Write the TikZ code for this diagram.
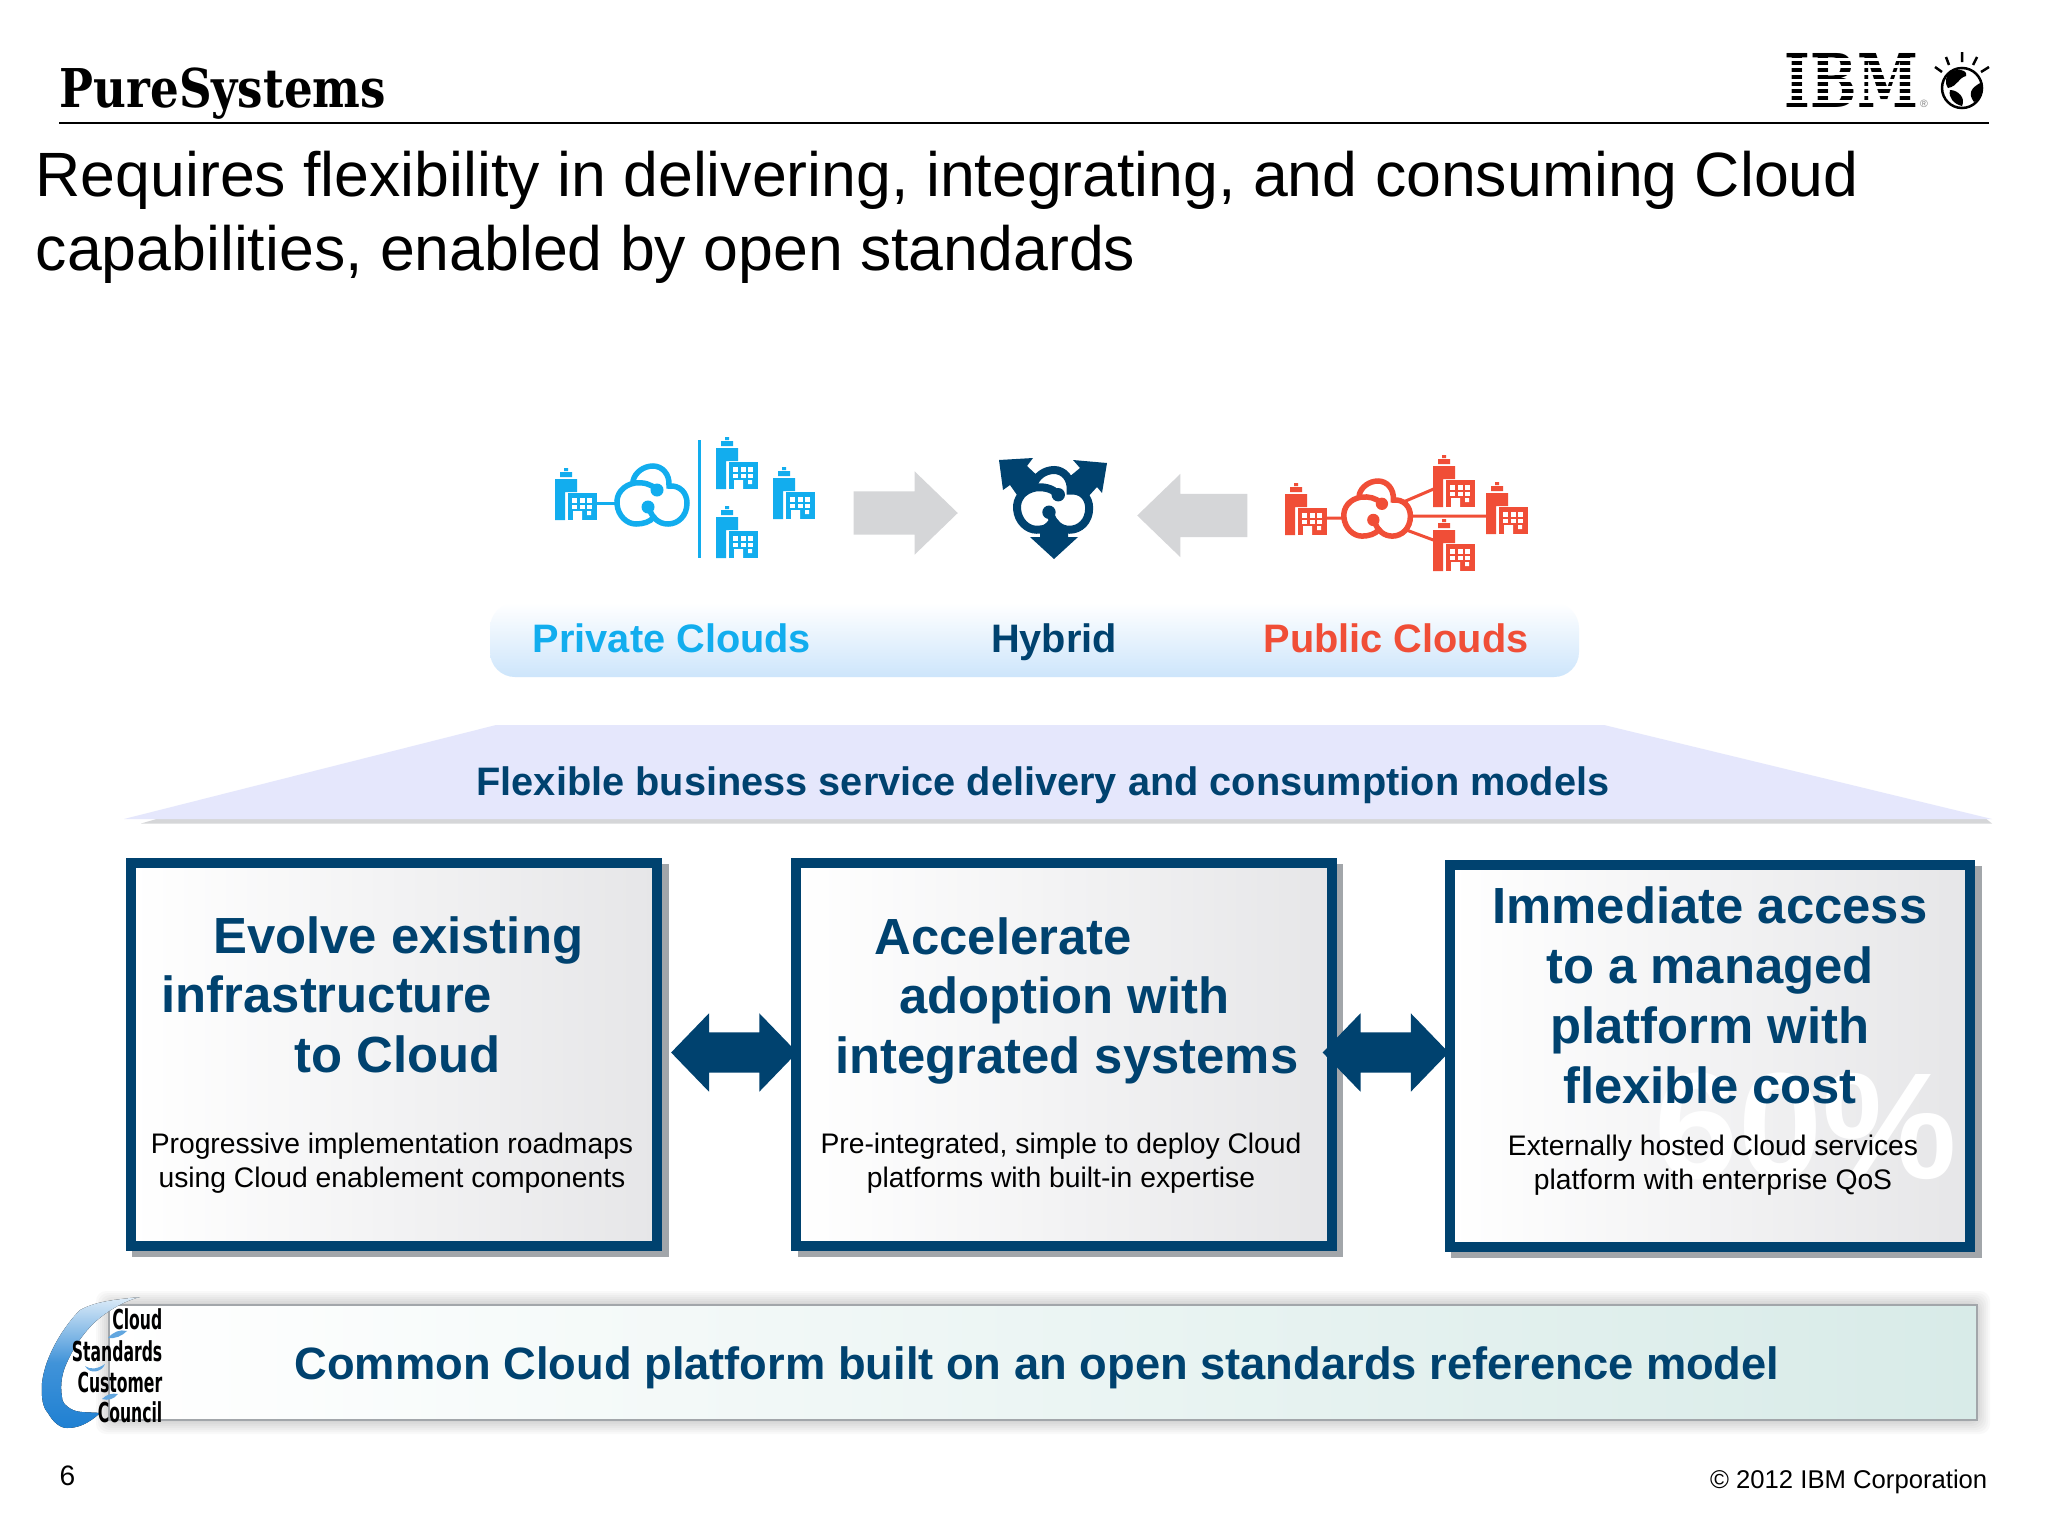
\documentclass[tikz,border=0pt]{standalone}
\usepackage{fontspec}
\setmainfont{Liberation Sans}
\newfontfamily\logofont{DejaVu Serif}
\newfontfamily\councilfont{DejaVu Sans}
\usetikzlibrary{shapes.arrows,shadows}

\definecolor{navy}{HTML}{00426F}
\definecolor{skyblue}{HTML}{12ADEE}
\definecolor{cloudred}{HTML}{F04E37}
\definecolor{lightgray}{HTML}{D5D6D8}
\definecolor{shadowgray}{HTML}{A2A6AA}
\definecolor{panelblue}{HTML}{CDE5FB}
\definecolor{roofblue}{HTML}{E5E7FC}
\definecolor{barteal}{HTML}{D8EBE8}
\definecolor{logoblue}{HTML}{1F80D2}
\definecolor{boxmid}{HTML}{F5F5F6}
\definecolor{boxend}{HTML}{E6E6E8}

\tikzset{
	modelbox/.style={draw=navy,line width=0.1cm,left color=white,middle color=boxmid,right color=boxend,
		minimum height=3.82cm,inner sep=0pt,
		drop shadow={shadow xshift=0.065cm,shadow yshift=-0.06cm,fill=shadowgray,draw=shadowgray,opacity=1}},
	boxhead/.style={text=navy,font=\bfseries\fontsize{14.45}{17.07}\selectfont,inner sep=0pt},
	boxsub/.style={text=black,font=\fontsize{8.04}{9.67}\selectfont,align=center,inner sep=0pt},
	modellabel/.style={font=\bfseries\fontsize{11.3}{13}\selectfont,inner sep=0pt,anchor=base},
	grayarrow/.style={single arrow,fill=lightgray,inner xsep=0pt,inner ysep=0.21cm,minimum height=1.04cm,
		single arrow head extend=0.2cm,single arrow tip angle=88},
	linkarrow/.style={double arrow,fill=navy,inner xsep=0pt,inner ysep=0.195cm,minimum height=1.26cm,
		double arrow head extend=0.19cm,double arrow tip angle=92},
	logoline/.style={anchor=base east,inner sep=0pt,text=black,font=\councilfont\bfseries\fontsize{7.8}{9}\selectfont},
}

% small office block, #1 #2 top left corner, #3 colour
\newcommand{\officeblock}[3]{
	\begin{scope}[shift={(#1,#2)}]
		\fill[#3] (9,0) rectangle (13,3) (5,4) rectangle (17,9) (0,11) rectangle (22,24) (0,24) rectangle (10,52);
		\fill[#3] (13,25) rectangle (42,52);
		\foreach \wx in {17,24.5,32}
			\foreach \wy in {30,36.5}
				\fill[white] (\wx,\wy) rectangle ++(5,4.5);
		\fill[white] (18,43) rectangle (27,52) (32,43) rectangle ++(4,4);
	\end{scope}
}
% cloud ring with swirl, #1 #2 top left corner, #3 colour, #4 line width, #5 scale
\newcommand{\cloudring}[5]{
	\begin{scope}[shift={(#1,#2)},scale=#5,line width=#4,draw=#3,line cap=round]
		\fill[white] (18,38) circle (18) (37,17) circle (17) (53,38) circle (18);
		\draw (41,23) .. controls (36,18) and (28,16) .. (20,17) .. controls (8,19) and (1,28) .. (2,38)
			.. controls (3,50) and (12,58) .. (21,58) .. controls (28,58) and (35,56) .. (39,51);
		\draw (18,15) .. controls (20,6) and (29,0) .. (38,0) .. controls (47,0) and (55,8) .. (54,20)
			.. controls (65,19) and (72,27) .. (72,37) .. controls (72,50) and (63,58) .. (53,58)
			.. controls (44,58) and (37,52) .. (34,42);
		\fill[#3] (42,24) circle (6.5) (33,41) circle (6.5);
	\end{scope}
}

\begin{document}
\begin{tikzpicture}[x=0.01cm,y=-0.01cm]
		\useasboundingbox (0,0) rectangle (2048,1536);
		\fill[white] (0,0) rectangle (2048,1536);

		% header
		\draw (59,107) node[anchor=base west,inner sep=0pt] (brand) {\logofont\bfseries\fontsize{15.2}{18}\selectfont\scalebox{0.845}[1]{PureSystems}};
		\draw[line width=0.025cm] (59,123) -- (1989,123);
		\draw (35,150) node[anchor=north west,inner sep=0pt,align=left,font=\fontsize{17.8}{21.3}\selectfont] (title) {Requires flexibility in delivering, integrating, and consuming Cloud\\capabilities, enabled by open standards};

		% IBM logo
		\draw (1851.5,80) node[inner sep=0pt] (ibm) {\resizebox{1.33cm}{0.54cm}{\logofont\bfseries IBM}};
		\foreach \sy in {59.5,66.5,73.5,80.5,87.5,94.5,101.5}
			\fill[white] (1780,\sy-1.9) rectangle (1922,\sy+1.9);
		\draw (1924,104) node[inner sep=0pt,text=gray] (regmark) {\fontsize{3}{3}\selectfont ®};
		\draw[line width=0.025cm,fill=white] (1962,88) circle (20);
		\fill[black] (1950,72) .. controls (1958,68) and (1968,70) .. (1966,76) .. controls (1958,78) and (1958,86) .. (1948,88) .. controls (1944,82) and (1946,76) .. (1950,72) -- cycle;
		\fill[black] (1982,82) .. controls (1984,92) and (1980,100) .. (1974,102) .. controls (1968,94) and (1970,88) .. (1982,82) -- cycle;
		\fill[black] (1950,90) .. controls (1958,90) and (1966,98) .. (1962,106) .. controls (1954,104) and (1948,98) .. (1950,90) -- cycle;
		\draw[line width=0.025cm] (1935,67) -- (1942,72) (1946,57) -- (1949,65) (1962,52) -- (1962,62) (1977,57) -- (1973,65) (1989,67) -- (1981,72);

		% private clouds
		\draw[skyblue,line width=0.03cm] (597,503) -- (618,503);
		\officeblock{555}{468}{skyblue}
		\cloudring{615}{466}{skyblue}{0.055cm}{1}
		\draw[skyblue,line width=0.03cm] (699.5,440) -- (699.5,558);
		\officeblock{716}{437}{skyblue}
		\officeblock{773}{467}{skyblue}
		\officeblock{716}{506}{skyblue}

		% hybrid
		\fill[navy] (999,460) -- (1033,458) -- (1027,466) -- (1042,480) -- (1017,495) -- (1010,485) -- (1003,490) -- cycle;
		\fill[navy] (1107,463) -- (1073,460) -- (1080,468) -- (1063,482) -- (1087,498) -- (1097,487) -- (1102,493) -- cycle;
		\fill[navy] (1040,520) rectangle (1068,537) (1030,537) -- (1078,537) -- (1054,559) -- cycle;
		\cloudring{1015}{470}{navy}{0.08cm}{1.03}

		% public clouds
		\draw[cloudred,line width=0.03cm] (1324,518) -- (1346,518) (1401,503) -- (1436,488) (1405,516) -- (1490,516) (1401,528) -- (1436,541);
		\officeblock{1285}{483}{cloudred}
		\cloudring{1342}{481}{cloudred}{0.055cm}{0.95}
		\officeblock{1433}{455}{cloudred}
		\officeblock{1486}{482}{cloudred}
		\officeblock{1433}{519}{cloudred}

		% arrows into hybrid
		\draw (853,513) node[grayarrow,anchor=tail] (intoleft) {};
		\draw (1248,515.5) node[grayarrow,anchor=tail,shape border rotate=180,minimum height=1.1cm] (intoright) {};

		% delivery panel
		\shade[top color=white,bottom color=panelblue,rounded corners=0.25cm] (490,603) rectangle (1579,677);
		\draw (672,652) node[modellabel,text=skyblue] (privatelab) {Private Clouds};
		\draw (1054,652) node[modellabel,text=navy] (hybridlab) {Hybrid};
		\draw (1396,652) node[modellabel,text=cloudred] (publiclab) {Public Clouds};

		% roof
		\fill[lightgray] (141,823.5) -- (160,818) -- (1985,818) -- (1992,823.5) -- cycle;
		\fill[roofblue] (496,725) -- (1604,725) -- (1992,819) -- (124,819) -- cycle;
		\draw (1043,795) node[modellabel,text=navy] (roof) {Flexible business service delivery and consumption models};

		% three boxes
		\draw (394,1054.5) node[modelbox,minimum width=5.26cm] (evolve) {};
		\draw (1064,1054.5) node[modelbox,minimum width=5.35cm] (accel) {};
		\draw (1710,1056) node[modelbox,minimum width=5.2cm] (immed) {};
		\draw (1806,1126) node[inner sep=0pt,text=white] (pct) {\bfseries\fontsize{43}{43}\selectfont 60\%};

		\draw (212.5,953) node[boxhead,anchor=base west] (evolvea) {Evolve existing};
		\draw (161,1012) node[boxhead,anchor=base west] (evolveb) {infrastructure};
		\draw (294,1072) node[boxhead,anchor=base west] (evolvec) {to Cloud};
		\draw (392,1163.5) node[boxsub] (evolvesub) {Progressive implementation roadmaps\\using Cloud enablement components};

		\draw (874,954) node[boxhead,anchor=base west] (accela) {Accelerate};
		\draw (898.5,1013) node[boxhead,anchor=base west] (accelb) {adoption with};
		\draw (834.5,1073) node[boxhead,anchor=base west] (accelc) {integrated systems};
		\draw (1061,1163.5) node[boxsub] (accelsub) {Pre-integrated, simple to deploy Cloud\\platforms with built-in expertise};

		\draw (1710,995) node[boxhead,align=center] (immedhead) {Immediate access\\to a managed\\platform with\\flexible cost};
		\draw (1713,1165.5) node[boxsub] (immedsub) {Externally hosted Cloud services\\platform with enterprise QoS};

		\draw (evolve.east)+(72,-2) node[linkarrow] (linka) {};
		\draw (accel.east)+(49,-2) node[linkarrow] (linkb) {};

		% bottom bar
		\foreach \bd in {2,4,...,14}
			\fill[black,opacity=0.025,rounded corners=0.1cm] (110-\bd,1305-\bd) rectangle (1976+\bd,1420+\bd);
		\draw (1043,1362.5) node[draw=shadowgray,line width=0.02cm,left color=white,right color=barteal,minimum width=18.66cm,minimum height=1.15cm,inner sep=0pt] (bar) {};
		\draw (1037,1368) node[text=navy,inner sep=0pt] (barlab) {\bfseries\fontsize{12.88}{15}\selectfont Common Cloud platform built on an open standards reference model};

		% council logo
		\fill[top color=logoblue!15!white,bottom color=logoblue,middle color=logoblue!85!white] (140,1297) .. controls (110,1300) and (95,1302) .. (80,1310) .. controls (65,1325) and (45,1355) .. (42,1383) .. controls (41,1398) and (43,1408) .. (48,1413)
			.. controls (53,1422) and (60,1428) .. (67,1428) .. controls (78,1428) and (88,1424) .. (100,1413) .. controls (90,1412) and (80,1413) .. (73,1410) .. controls (65,1406) and (62,1402) .. (62,1397) .. controls (60,1385) and (62,1375) .. (65,1367) .. controls (72,1350) and (80,1338) .. (90,1327) .. controls (100,1316) and (120,1302) .. (140,1297) -- cycle;
		\fill[logoblue!70!white] (108,1338) .. controls (113,1332) and (120,1329) .. (127,1331) .. controls (122,1336) and (115,1339) .. (108,1338) -- cycle;
		\fill[logoblue!70!white] (85,1366) .. controls (90,1370) and (98,1369) .. (105,1364) .. controls (102,1372) and (90,1375) .. (85,1366) -- cycle;
		\fill[logoblue!70!white] (102,1399) .. controls (107,1394) and (112,1393) .. (118,1394) .. controls (114,1399) and (108,1401) .. (102,1399) -- cycle;
		\draw (163,1329) node[logoline] (logoa) {\scalebox{0.57}[1]{Cloud}};
		\draw (163,1361) node[logoline] (logob) {\scalebox{0.57}[1]{Standards}};
		\draw (163,1392) node[logoline] (logoc) {\scalebox{0.57}[1]{Customer}};
		\draw (163,1422) node[logoline] (logod) {\scalebox{0.57}[1]{Council}};

		% footer
		\draw (59,1485) node[anchor=base west,inner sep=0pt] (pageno) {\fontsize{8}{9}\selectfont 6};
		\draw (1988,1488) node[anchor=base east,inner sep=0pt] (copyr) {\fontsize{7.3}{9}\selectfont © 2012 IBM Corporation};
\end{tikzpicture}
\end{document}
